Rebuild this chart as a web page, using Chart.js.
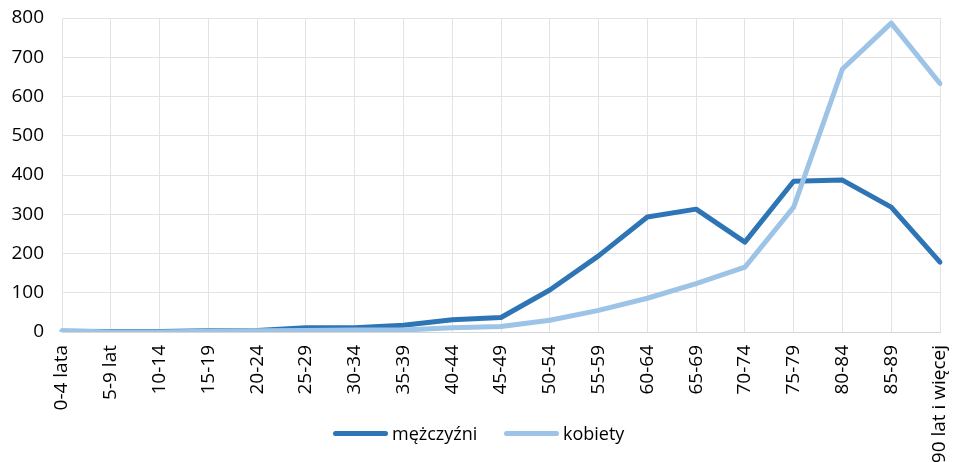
<!DOCTYPE html>
<html>
<head>
<meta charset="utf-8">
<script src="https://cdn.jsdelivr.net/npm/chart.js@4"></script>
<style>
  html, body { margin: 0; padding: 0; background: #fff; }
  #wrap { width: 953px; height: 462px; position: relative; }
  #legend { position: absolute; left: 0; top: 420px; width: 953px; height: 26px; font: 18px 'Open Sans', sans-serif; color: #000; }
  .item { position: absolute; top: 0; height: 26px; line-height: 26px; }
  .swatch { position: absolute; top: 11px; left: 0; width: 55px; height: 5px; border-radius: 3px; }
  .text { position: absolute; left: 59px; top: 0; white-space: nowrap; }
</style>
</head>
<body>
<div id="wrap">
  <canvas id="chart"></canvas>
  <div id="legend"></div>
</div>
<script>
const ageGroups = ['0-4 lata', '5-9 lat', '10-14', '15-19', '20-24', '25-29', '30-34', '35-39', '40-44', '45-49',
  '50-54', '55-59', '60-64', '65-69', '70-74', '75-79', '80-84', '85-89', '90 lat i więcej'];
const men = [2, 1, 1, 3, 4, 11, 11, 17, 31, 37, 107, 194, 293, 313, 229, 384, 387, 318, 178];
const women = [3, 0, 0, 2, 3, 4, 5, 5, 11, 14, 30, 55, 86, 123, 165, 318, 670, 787, 633];
const yTicks = [0, 100, 200, 300, 400, 500, 600, 700, 800];
const seriesNames = ['mężczyźni', 'kobiety'];
const seriesColors = ['#2E75B6', '#9DC3E6'];

const font = "'Open Sans', 'Liberation Sans', sans-serif";
const getById = id => document.getElementById(id);

// order: the second series (kobiety) is painted over the first one
const makeDataset = (i, values) => ({
  label: seriesNames[i],
  data: values,
  order: seriesNames.length - i,
  borderColor: seriesColors[i],
  backgroundColor: seriesColors[i],
  borderWidth: 5,
  borderJoinStyle: 'round',
  borderCapStyle: 'round',
  pointRadius: 0,
  tension: 0
});

// legend drawn as html, over the bottom of the x labels like in the original
const buildLegend = () => {
  const lefts = [333, 504];
  const legend = getById('legend');
  seriesNames.forEach((name, i) => {
    const item = document.createElement('div');
    item.className = 'item';
    item.style.left = lefts[i] + 'px';
    item.innerHTML = '<span class="swatch" style="background:' + seriesColors[i] + '"></span><span class="text">' + name + '</span>';
    legend.appendChild(item);
  });
};

document.addEventListener('DOMContentLoaded', () => {
  buildLegend();
  const ctx = getById('chart').getContext('2d');
  //eslint-disable-next-line
  const chart = new Chart(ctx, {
    type: 'line',
    data: {
      labels: ageGroups,
      datasets: [makeDataset(0, men), makeDataset(1, women)]
    },
    options: {
      responsive: true,
      maintainAspectRatio: false,
      animation: false,
      layout: { padding: { top: 18, right: 13, left: 0, bottom: 0 } },
      plugins: {
        legend: { display: false },
        tooltip: { enabled: false }
      },
      scales: {
        x: {
          offset: false,
          grid: { color: '#e3e3e3', lineWidth: 1, drawTicks: false },
          border: { color: '#d6d6d6', width: 1 },
          afterFit: scale => {
            scale.height = 130;
            scale.paddingLeft = 0;
            scale.paddingRight = 0;
          },
          ticks: {
            minRotation: 90,
            maxRotation: 90,
            autoSkip: false,
            padding: 13,
            color: '#000',
            font: { family: font, size: 19 }
          }
        },
        y: {
          min: 0,
          max: 800,
          afterBuildTicks: scale => { scale.ticks = yTicks.map(v => ({ value: v })); },
          afterFit: scale => {
            scale.width = 62;
            scale.paddingTop = 0;
            scale.paddingBottom = 0;
          },
          grid: { color: '#e3e3e3', lineWidth: 1, drawTicks: false },
          border: { display: false },
          ticks: {
            padding: 18,
            color: '#000',
            font: { family: font, size: 19 }
          }
        }
      }
    }
  });
});
</script>
</body>
</html>
